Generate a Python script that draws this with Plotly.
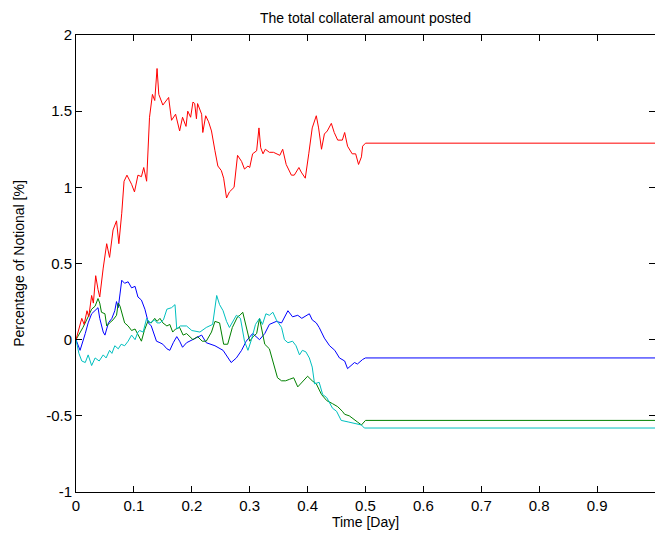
import plotly.graph_objects as go

# ---- data ----
red_x = [0, .007, .01, .014, .019, .022, .027, .03, .034, .038, .041, .047, .053, .058, .064, .07, .074, .079, .083, .088,
         .096, .101, .107, .113, .117, .122, .124, .127, .132, .136, .14, .143, .15, .16, .165, .172, .179, .184, .19, .193,
         .198, .202, .205, .208, .21, .217, .219, .224, .229, .234, .24, .245, .251, .255, .26, .265, .273, .276, .279, .286,
         .291, .297, .3, .305, .312, .316, .319, .323, .327, .334, .341, .352, .357, .363, .372, .377, .385, .389, .396, .402,
         .408, .415, .419, .424, .429, .434, .441, .446, .452, .46, .464, .469, .477, .483, .488, .493, .495, .5, 1]
red_y = [0, .09, .14, .1, .19, .15, .29, .24, .42, .33, .28, .47, .63, .54, .72, .78, .63, .83, 1.04, 1.08,
         1.02, .97, 1.08, 1.07, 1.13, 1.04, 1.24, 1.46, 1.61, 1.57, 1.78, 1.61, 1.54, 1.59, 1.44, 1.48, 1.37, 1.46, 1.4, 1.5,
         1.46, 1.56, 1.55, 1.45, 1.55, 1.48, 1.36, 1.47, 1.43, 1.37, 1.24, 1.14, 1.11, 1.06, .93, .97, 1.0, 1.11, 1.21, 1.17,
         1.12, 1.14, 1.13, 1.22, 1.24, 1.39, 1.26, 1.22, 1.25, 1.23, 1.23, 1.21, 1.25, 1.15, 1.08, 1.08, 1.13, 1.1, 1.06, 1.22,
         1.39, 1.47, 1.39, 1.25, 1.35, 1.37, 1.42, 1.36, 1.31, 1.31, 1.36, 1.27, 1.22, 1.22, 1.15, 1.2, 1.27, 1.29, 1.29]

blue_x = [0, .007, .016, .021, .027, .033, .038, .041, .044, .047, .05, .056, .062, .067, .07, .073, .076, .079, .084, .09,
          .096, .102, .107, .113, .119, .122, .125, .13, .136, .139, .145, .15, .157, .162, .168, .174, .179, .184, .191, .202,
          .217, .225, .24, .254, .268, .277, .286, .294, .305, .317, .326, .334, .346, .355, .366, .374, .383, .39, .403, .408,
          .415, .42, .429, .438, .447, .455, .464, .469, .476, .481, .486, .495, .5, 1]
blue_y = [0, -.07, .04, .11, .17, .19, .21, .14, .09, .05, .03, .11, .14, .19, .25, .21, .30, .39, .37, .38,
          .34, .35, .28, .26, .20, .15, .11, .09, .02, -.01, -.02, -.03, -.06, -.07, -.02, .02, -.01, -.05, -.02, .0,
          .03, -.02, -.04, -.07, -.15, -.12, -.07, -.01, .04, .0, .04, .1, .12, .11, .19, .15, .16, .14, .17, .13,
          .11, .08, .01, -.04, -.07, -.12, -.14, -.19, -.17, -.15, -.16, -.13, -.12, -.12]

green_x = [0, .012, .021, .027, .033, .038, .041, .044, .05, .053, .058, .064, .07, .073, .076, .079, .084, .09, .096, .102,
           .107, .113, .118, .124, .13, .136, .14, .145, .15, .157, .162, .167, .172, .179, .185, .191, .202, .21, .218, .225,
           .234, .24, .248, .255, .262, .27, .279, .283, .288, .294, .3, .306, .312, .317, .323, .326, .334, .34, .348, .355,
           .362, .369, .376, .383, .39, .4, .408, .415, .424, .433, .443, .452, .46, .464, .472, .476, .486, .493, .5, 1]
green_y = [0, .08, .15, .20, .22, .27, .24, .18, .17, .09, .11, .13, .16, .24, .22, .18, .11, .09, .06, .07,
           .03, -.01, .06, .12, .11, .14, .12, .14, .11, .09, .1, .05, .07, .08, .03, .04, .0, .02, -.01, -.01,
           .05, .12, .11, -.03, -.03, .08, .15, .16, .18, .08, -.01, .02, .04, .14, .04, -.03, -.06, -.14, -.25, -.27,
           -.27, -.26, -.25, -.31, -.28, -.24, -.27, -.29, -.36, -.40, -.42, -.44, -.47, -.49, -.5, -.51, -.54, -.56, -.53, -.53]

cyan_x = [0, .005, .01, .016, .021, .027, .033, .04, .047, .052, .058, .062, .067, .073, .078, .084, .09, .096, .102, .107,
          .11, .116, .122, .128, .136, .14, .145, .151, .157, .165, .171, .174, .18, .191, .2, .214, .225, .236, .243, .248,
          .254, .26, .265, .271, .277, .284, .291, .297, .303, .31, .317, .322, .328, .334, .34, .346, .355, .36, .366, .374,
          .38, .386, .391, .397, .403, .408, .412, .42, .426, .433, .443, .45, .458, .47, .484, .493, .498, 1]
cyan_y = [0, -.09, -.14, -.15, -.10, -.17, -.12, -.14, -.10, -.12, -.07, -.09, -.04, -.06, -.03, -.04, -.01, .03, .0, .05,
          .06, .05, .14, .11, .13, .11, .11, .13, .2, .21, .23, .07, .09, .09, .06, .05, .08, .1, .29, .23,
          .19, .12, .08, .12, .16, .14, -.01, -.07, .0, .1, .14, .1, .17, .16, .18, .13, .08, .0, -.02, -.01,
          -.04, -.1, -.07, -.08, -.12, -.18, -.29, -.28, -.36, -.38, -.45, -.47, -.53, -.54, -.55, -.56, -.58, -.58]

x_ticks = [0, 0.1, 0.2, 0.3, 0.4, 0.5, 0.6, 0.7, 0.8, 0.9, 1]
x_tick_text = ["0", "0.1", "0.2", "0.3", "0.4", "0.5", "0.6", "0.7", "0.8", "0.9", "1"]
y_ticks = [-1, -0.5, 0, 0.5, 1, 1.5, 2]
y_tick_text = ["-1", "-0.5", "0", "0.5", "1", "1.5", "2"]

series = [
    (blue_x, blue_y, "rgb(0,0,255)"),
    (green_x, green_y, "rgb(0,128,0)"),
    (cyan_x, cyan_y, "rgb(0,191,191)"),
    (red_x, red_y, "rgb(255,0,0)"),
]

fig = go.Figure()
for xs, ys, col in series:
    assert len(xs) == len(ys), (len(xs), len(ys))
    fig.add_trace(go.Scatter(x=xs, y=ys, mode="lines", line=dict(color=col, width=1), showlegend=False))

font_family = "Liberation Sans Narrow, Liberation Sans, Arial, sans-serif"
axis_common = dict(showgrid=False, zeroline=False, showline=True, linecolor="black", linewidth=1,
                   mirror="allticks", ticks="inside", ticklen=6, tickcolor="black", tickwidth=1,
                   automargin=False,
                   tickfont=dict(family=font_family, size=15, color="black"))

fig.update_layout(
    width=655, height=543,
    paper_bgcolor="white", plot_bgcolor="white",
    margin=dict(l=76, r=0, t=35, b=51),
    title=dict(text="The total collateral amount posted", x=0.558, xanchor="center", y=0.967, yanchor="middle",
               font=dict(family=font_family, size=14, color="black")),
    xaxis=dict(range=[0, 1], tickvals=x_ticks, ticktext=x_tick_text,
               title=dict(text="Time [Day]", font=dict(family=font_family, size=14, color="black"), standoff=4),
               **axis_common),
    yaxis=dict(range=[-1, 2], tickvals=y_ticks, ticktext=y_tick_text,
               title=dict(text="Percentage of Notional [%]", font=dict(family=font_family, size=14, color="black"), standoff=18),
               **axis_common),
)

fig.write_html("out.html", config={"displayModeBar": False},
               post_script="document.body.style.margin='0';document.body.style.overflow='hidden';")
